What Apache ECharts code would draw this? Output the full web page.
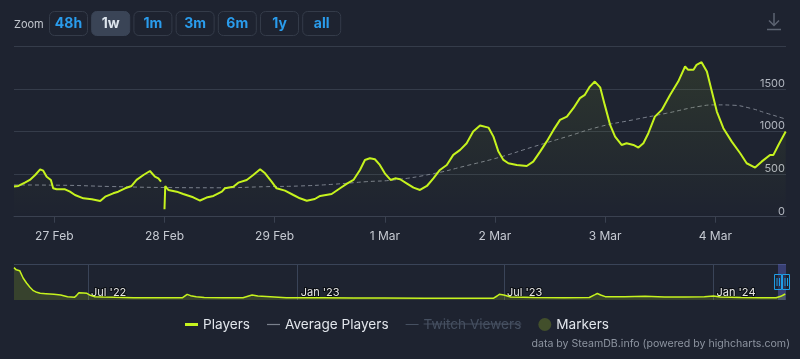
<!DOCTYPE html>
<html><head><meta charset="utf-8">
<script src="https://cdn.jsdelivr.net/npm/echarts@6/dist/echarts.min.js"></script>
<style>html,body{margin:0;padding:0;background:#1e2330;}#c{width:800px;height:359px;}</style>
</head><body><div id="c"></div><script>
// ---------- DATA ----------
const viewRange = ['2024-02-26 15:13', '2024-03-04 15:24'];
const navRange = ['2022-04-27 00:00', '2024-03-04 15:24'];
const dayTicks = ['2024-02-27', '2024-02-28', '2024-02-29', '2024-03-01', '2024-03-02', '2024-03-03', '2024-03-04'];
const navTicks = ['2022-07-01', '2023-01-01', '2023-07-01', '2024-01-01'];
const yTicks = [0, 500, 1000, 1500, 2000];
const zoomButtons = ['48h', '1w', '1m', '3m', '6m', '1y', 'all'];
const selectedButton = '1w';
const legendItems = ['Players', 'Average Players', 'Twitch Viewers', 'Markers'];

const playersData = [
 ['2024-02-26 15:13',355],['2024-02-26 16:10',361],['2024-02-26 17:35',400],['2024-02-26 18:40',432],
 ['2024-02-26 19:50',490],['2024-02-26 20:55',557],['2024-02-26 21:35',541],['2024-02-26 22:20',470],
 ['2024-02-26 23:15',432],['2024-02-26 23:45',334],['2024-02-27 00:30',322],['2024-02-27 02:20',322],
 ['2024-02-27 03:25',294],['2024-02-27 04:30',255],['2024-02-27 06:20',216],['2024-02-27 08:10',205],
 ['2024-02-27 10:00',185],['2024-02-27 11:05',235],['2024-02-27 12:50',275],['2024-02-27 13:55',294],
 ['2024-02-27 15:25',334],['2024-02-27 16:50',361],['2024-02-27 17:55',432],['2024-02-27 19:25',490],
 ['2024-02-27 20:50',537],['2024-02-27 21:55',470],['2024-02-27 22:40',451],['2024-02-27 23:15',412],
 ['2024-02-27 23:40',null],
 ['2024-02-28 00:00',87],['2024-02-28 00:10',360],['2024-02-28 00:50',314],['2024-02-28 02:40',294],
 ['2024-02-28 04:05',267],['2024-02-28 06:15',228],['2024-02-28 07:45',190],['2024-02-28 09:10',225],
 ['2024-02-28 10:40',244],['2024-02-28 12:30',294],['2024-02-28 13:10',334],['2024-02-28 15:00',353],
 ['2024-02-28 16:05',400],['2024-02-28 17:55',432],['2024-02-28 19:20',490],['2024-02-28 20:50',557],
 ['2024-02-28 21:55',510],['2024-02-28 23:20',412],['2024-02-29 00:25',334],['2024-02-29 02:15',306],
 ['2024-02-29 04:05',255],['2024-02-29 05:30',216],['2024-02-29 07:00',188],['2024-02-29 08:45',208],
 ['2024-02-29 09:55',244],['2024-02-29 12:25',267],['2024-02-29 14:15',334],['2024-02-29 15:40',385],
 ['2024-02-29 17:10',432],['2024-02-29 18:35',549],['2024-02-29 19:40',667],['2024-02-29 20:45',687],
 ['2024-02-29 21:50',675],['2024-02-29 22:55',608],['2024-03-01 00:00',510],['2024-03-01 01:15',432],
 ['2024-03-01 02:15',451],['2024-03-01 03:20',440],['2024-03-01 04:45',392],['2024-03-01 06:15',341],
 ['2024-03-01 07:40',314],['2024-03-01 09:10',361],['2024-03-01 10:35',451],['2024-03-01 12:00',549],
 ['2024-03-01 13:30',608],['2024-03-01 14:55',726],['2024-03-01 16:25',785],['2024-03-01 17:50',863],
 ['2024-03-01 19:15',1000],['2024-03-01 20:45',1071],['2024-03-01 22:35',1047],['2024-03-01 23:40',941],
 ['2024-03-02 00:45',765],['2024-03-02 01:50',667],['2024-03-02 02:55',628],['2024-03-02 04:45',608],
 ['2024-03-02 06:55',596],['2024-03-02 08:20',647],['2024-03-02 09:50',765],['2024-03-02 11:15',882],
 ['2024-03-02 12:45',1020],['2024-03-02 14:10',1138],['2024-03-02 15:40',1176],['2024-03-02 17:05',1275],
 ['2024-03-02 18:30',1393],['2024-03-02 19:35',1432],['2024-03-02 20:40',1529],['2024-03-02 21:45',1588],
 ['2024-03-02 22:55',1520],['2024-03-02 23:55',1314],['2024-03-03 01:05',1079],['2024-03-03 02:10',941],
 ['2024-03-03 03:35',843],['2024-03-03 04:40',863],['2024-03-03 06:10',843],['2024-03-03 07:15',812],
 ['2024-03-03 08:20',863],['2024-03-03 09:25',981],['2024-03-03 10:50',1176],['2024-03-03 12:20',1255],
 ['2024-03-03 14:10',1432],['2024-03-03 15:55',1588],['2024-03-03 17:25',1765],['2024-03-03 18:05',1726],
 ['2024-03-03 19:15',1726],['2024-03-03 19:55',1785],['2024-03-03 21:00',1816],['2024-03-03 22:10',1706],
 ['2024-03-03 23:15',1471],['2024-03-04 00:20',1235],['2024-03-04 01:45',1040],['2024-03-04 03:35',882],
 ['2024-03-04 05:25',746],['2024-03-04 06:50',628],['2024-03-04 08:40',577],['2024-03-04 10:05',647],
 ['2024-03-04 11:55',726],['2024-03-04 12:40',726],['2024-03-04 13:45',843],['2024-03-04 15:20',1000]
];

const averageData = [
 ['2024-02-26 15:13',373],['2024-02-27 01:15',370],['2024-02-27 12:10',355],['2024-02-28 00:05',343],
 ['2024-02-28 12:05',340],['2024-02-28 22:15',353],['2024-02-29 05:30',361],['2024-02-29 12:45',381],
 ['2024-02-29 20:05',412],['2024-03-01 02:00',432],['2024-03-01 10:30',505],['2024-03-01 17:50',600],
 ['2024-03-02 01:05',700],['2024-03-02 08:15',820],['2024-03-02 15:40',941],['2024-03-02 22:55',1059],
 ['2024-03-03 06:05',1138],['2024-03-03 13:25',1216],['2024-03-03 20:40',1298],['2024-03-04 00:20',1314],
 ['2024-03-04 03:50',1310],['2024-03-04 07:35',1275],['2024-03-04 11:10',1216],['2024-03-04 14:45',1157],
 ['2024-03-04 15:24',1145]
];

const navigatorData = [
 ['2022-04-27',9700],['2022-04-29',9050],['2022-04-30',9250],['2022-05-02',8800],['2022-05-05',6600],
 ['2022-05-08',5100],['2022-05-11',3800],['2022-05-14',2800],['2022-05-17',2300],['2022-05-20',2000],
 ['2022-05-25',1900],['2022-06-01',1700],['2022-06-07',1500],['2022-06-13',1000],['2022-06-19',800],
 ['2022-06-21',1400],['2022-06-23',2200],['2022-06-27',2100],['2022-06-30',2000],['2022-07-03',1400],
 ['2022-07-07',1000],['2022-07-14',900],['2022-07-25',800],['2022-08-10',700],['2022-08-28',700],
 ['2022-09-14',650],['2022-09-22',700],['2022-09-26',1700],['2022-09-29',1300],['2022-10-04',1000],
 ['2022-10-11',750],['2022-10-28',650],['2022-11-14',650],['2022-11-19',1200],['2022-11-22',1500],
 ['2022-11-27',1200],['2022-12-08',1000],['2022-12-22',700],['2023-01-06',700],['2023-01-24',650],
 ['2023-02-19',600],['2023-03-18',600],['2023-04-22',550],['2023-05-27',550],['2023-06-22',550],
 ['2023-06-25',1200],['2023-06-27',1700],['2023-07-01',1500],['2023-07-07',900],['2023-07-28',750],
 ['2023-08-23',700],['2023-09-14',750],['2023-09-19',1600],['2023-09-21',1950],['2023-09-24',1500],
 ['2023-09-28',1000],['2023-10-15',1000],['2023-11-02',1100],['2023-11-19',900],['2023-12-07',900],
 ['2023-12-24',1000],['2024-01-01',1200],['2024-01-07',900],['2024-01-25',750],['2024-02-12',650],
 ['2024-02-25',650],['2024-02-29',1100],['2024-03-04',1800]
];

// ---------- HELPERS ----------
const MON = ['Jan','Feb','Mar','Apr','May','Jun','Jul','Aug','Sep','Oct','Nov','Dec'];
function ts(s) {
  const m = s.match(/(\d+)-(\d+)-(\d+)(?: (\d+):(\d+))?/);
  return new Date(+m[1], +m[2] - 1, +m[3], +(m[4] || 0), +(m[5] || 0)).getTime();
}
const toPts = arr => arr.map(([t, v]) => [ts(t), v]);

const LIME = '#c6f31e';
const GRID = '#353c4a';
const FONT = 'Inter, "Noto Sans", sans-serif';

const chart = echarts.init(document.getElementById('c'), null, { renderer: 'canvas' });

const graphics = [];
graphics.push({ type: 'text', x: 14, y: 24.5, style: { text: 'Zoom', fill: '#c3c7ce', font: '11px ' + FONT, textVerticalAlign: 'middle' } });
zoomButtons.forEach((b, i) => {
  const sel = b === selectedButton;
  const x = 49 + i * 42.2;
  graphics.push({ type: 'rect', shape: { x: x + 0.5, y: 11.5, width: 38, height: 24, r: 5 },
    style: { fill: sel ? '#3a4456' : 'rgba(0,0,0,0)', stroke: sel ? '#3a4456' : '#343b49', lineWidth: 1 } });
  graphics.push({ type: 'text', x: x + 19.5, y: 23.5, style: { text: b, fill: sel ? '#dde4ec' : '#2a9cec',
    font: 'bold 14px ' + FONT, textAlign: 'center', textVerticalAlign: 'middle' } });
});
graphics.push({ type: 'line', shape: { x1: 774, y1: 13, x2: 774, y2: 25 }, style: { stroke: '#5d6472', lineWidth: 1.5 } });
graphics.push({ type: 'polyline', shape: { points: [[769, 20.5], [774, 25.5], [779, 20.5]] }, style: { stroke: '#5d6472', lineWidth: 1.5, fill: null } });
graphics.push({ type: 'line', shape: { x1: 767, y1: 29.5, x2: 781, y2: 29.5 }, style: { stroke: '#5d6472', lineWidth: 1.5 } });
graphics.push({ type: 'text', x: 790, y: 344, style: { text: 'data by SteamDB.info (powered by highcharts.com)',
  fill: '#8d94a0', font: '10.6px ' + FONT, textAlign: 'right', textVerticalAlign: 'middle' } });

const legendIcons = {
  'Players': 'path://M0,0H13V3H0Z',
  'Average Players': 'path://M0,0H13V1.2H0Z',
  'Twitch Viewers': 'path://M0,0H15V1.2H0Z',
  'Markers': 'circle'
};

const dayFmt = v => { const d = new Date(v); return d.getDate() + ' ' + MON[d.getMonth()]; };
const navFmt = v => { const d = new Date(v); return MON[d.getMonth()] + " '" + String(d.getFullYear()).slice(2); };

chart.setOption({
  animation: false,
  backgroundColor: '#1e2330',
  textStyle: { fontFamily: FONT },
  grid: [
    { left: 14, right: 14, top: 46.5, bottom: 142.3 },
    { left: 14, right: 14, top: 264, bottom: 59 }
  ],
  legend: {
    left: 185, top: 317.5, padding: 0,
    itemWidth: 13, itemHeight: 13, itemGap: 17,
    textStyle: { color: '#e2e6ec', fontSize: 13.6, fontFamily: FONT },
    inactiveColor: '#465061',
    selected: { 'Twitch Viewers': false },
    data: legendItems.map(n => ({ name: n, icon: legendIcons[n], itemStyle: { borderWidth: 0 } }))
  },
  xAxis: [
    {
      type: 'value', gridIndex: 0, min: ts(viewRange[0]), max: ts(viewRange[1]),
      axisLine: { show: true, lineStyle: { color: '#3a4150' } },
      axisTick: { show: true, length: 6, lineStyle: { color: '#3a4150' }, customValues: dayTicks.map(ts) },
      splitLine: { show: false },
      axisLabel: { color: '#c6cad2', fontSize: 12, margin: 14, fontFamily: FONT,
        customValues: dayTicks.map(ts), formatter: dayFmt }
    },
    {
      type: 'value', gridIndex: 1, min: ts(navRange[0]), max: ts(navRange[1]),
      axisLine: { show: false },
      axisTick: { show: false, customValues: navTicks.map(ts) },
      splitLine: { show: true, lineStyle: { color: '#3a4458', width: 1 } },
      axisLabel: { inside: true, margin: 2, color: '#e6e6e6', fontSize: 11, fontFamily: FONT,
        align: 'left', padding: [0, 0, 0, 3], textBorderColor: '#0c0f14', textBorderWidth: 2,
        customValues: navTicks.map(ts), formatter: navFmt }
    }
  ],
  yAxis: [
    {
      type: 'value', gridIndex: 0, position: 'right', min: yTicks[0], max: yTicks[yTicks.length - 1], interval: 500,
      axisLine: { show: false }, axisTick: { show: false },
      splitLine: { lineStyle: { color: GRID, width: 1 } },
      axisLabel: { inside: true, margin: 1, color: '#b1b6bf', fontSize: 11, fontFamily: FONT,
        verticalAlign: 'bottom', padding: [0, 0, 0, 0], showMaxLabel: false, formatter: v => String(v) }
    },
    {
      type: 'value', gridIndex: 1, min: 0, max: 10800, interval: 10800,
      axisLine: { show: false }, axisTick: { show: false }, axisLabel: { show: false },
      splitLine: { show: true, showMinLine: false, lineStyle: { color: '#3a4458', width: 1 } }
    }
  ],
  series: [
    {
      name: 'Players', type: 'line', xAxisIndex: 0, yAxisIndex: 0, data: toPts(playersData),
      showSymbol: false, connectNulls: false, z: 4,
      itemStyle: { color: LIME },
      lineStyle: { color: LIME, width: 2 },
      areaStyle: { color: new echarts.graphic.LinearGradient(0, 0, 0, 1, [
        { offset: 0, color: 'rgba(198,243,30,0.13)' }, { offset: 1, color: 'rgba(198,243,30,0.0)' }]) }
    },
    {
      name: 'Average Players', type: 'line', xAxisIndex: 0, yAxisIndex: 0, data: toPts(averageData),
      smooth: true, showSymbol: false, z: 3,
      itemStyle: { color: '#7a808c' },
      lineStyle: { color: '#7a808c', width: 1, type: [4, 3] }
    },
    {
      name: 'Twitch Viewers', type: 'line', xAxisIndex: 0, yAxisIndex: 0, data: [],
      showSymbol: false, itemStyle: { color: '#9147ff' }, lineStyle: { color: '#9147ff' }
    },
    {
      name: 'Markers', type: 'scatter', xAxisIndex: 0, yAxisIndex: 0, data: [],
      itemStyle: { color: '#4b5a2b' }
    },
    {
      name: 'navigator', type: 'line', xAxisIndex: 1, yAxisIndex: 1, data: toPts(navigatorData),
      showSymbol: false, z: 3,
      lineStyle: { color: LIME, width: 1.5 },
      itemStyle: { color: LIME },
      areaStyle: { color: 'rgba(198,243,30,0.22)' },
      markArea: { silent: true, itemStyle: { color: 'rgba(100,110,225,0.38)' },
        data: [[{ xAxis: ts(viewRange[0]) }, { xAxis: ts(viewRange[1]) }]] }
    }
  ],
  graphic: graphics
});

const twitchIdx = legendItems.indexOf('Twitch Viewers');
let sx0 = 0;
const ctx = document.createElement('canvas').getContext('2d');
ctx.font = '13.6px ' + FONT;
for (let i = 0; i < twitchIdx; i++) sx0 += 13 + 5 + ctx.measureText(legendItems[i]).width + 17;
const sxText = 185 + sx0 + 13 + 5;
const sw = ctx.measureText('Twitch Viewers').width;
const strike = { type: 'line', shape: { x1: sxText, y1: 324, x2: sxText + sw, y2: 324 }, style: { stroke: '#465061', lineWidth: 1 } };

const p0 = chart.convertToPixel({ gridIndex: 1 }, [ts(viewRange[0]), 5400]);
const p1 = chart.convertToPixel({ gridIndex: 1 }, [ts(viewRange[1]), 5400]);
function handle(px, py) {
  return [
    { type: 'rect', shape: { x: px - 3.5, y: py - 7.5, width: 7, height: 15 },
      style: { fill: 'rgba(30,35,48,0.5)', stroke: '#1f9ee8', lineWidth: 1 }, z: 100 },
    { type: 'line', shape: { x1: px - 1, y1: py - 4, x2: px - 1, y2: py + 4 }, style: { stroke: '#1f9ee8', lineWidth: 1 }, z: 101 },
    { type: 'line', shape: { x1: px + 1.5, y1: py - 4, x2: px + 1.5, y2: py + 4 }, style: { stroke: '#1f9ee8', lineWidth: 1 }, z: 101 }
  ];
}
chart.setOption({ graphic: graphics.concat([strike], handle(p0[0], p0[1]), handle(p1[0], p1[1])) });
</script></body></html>
